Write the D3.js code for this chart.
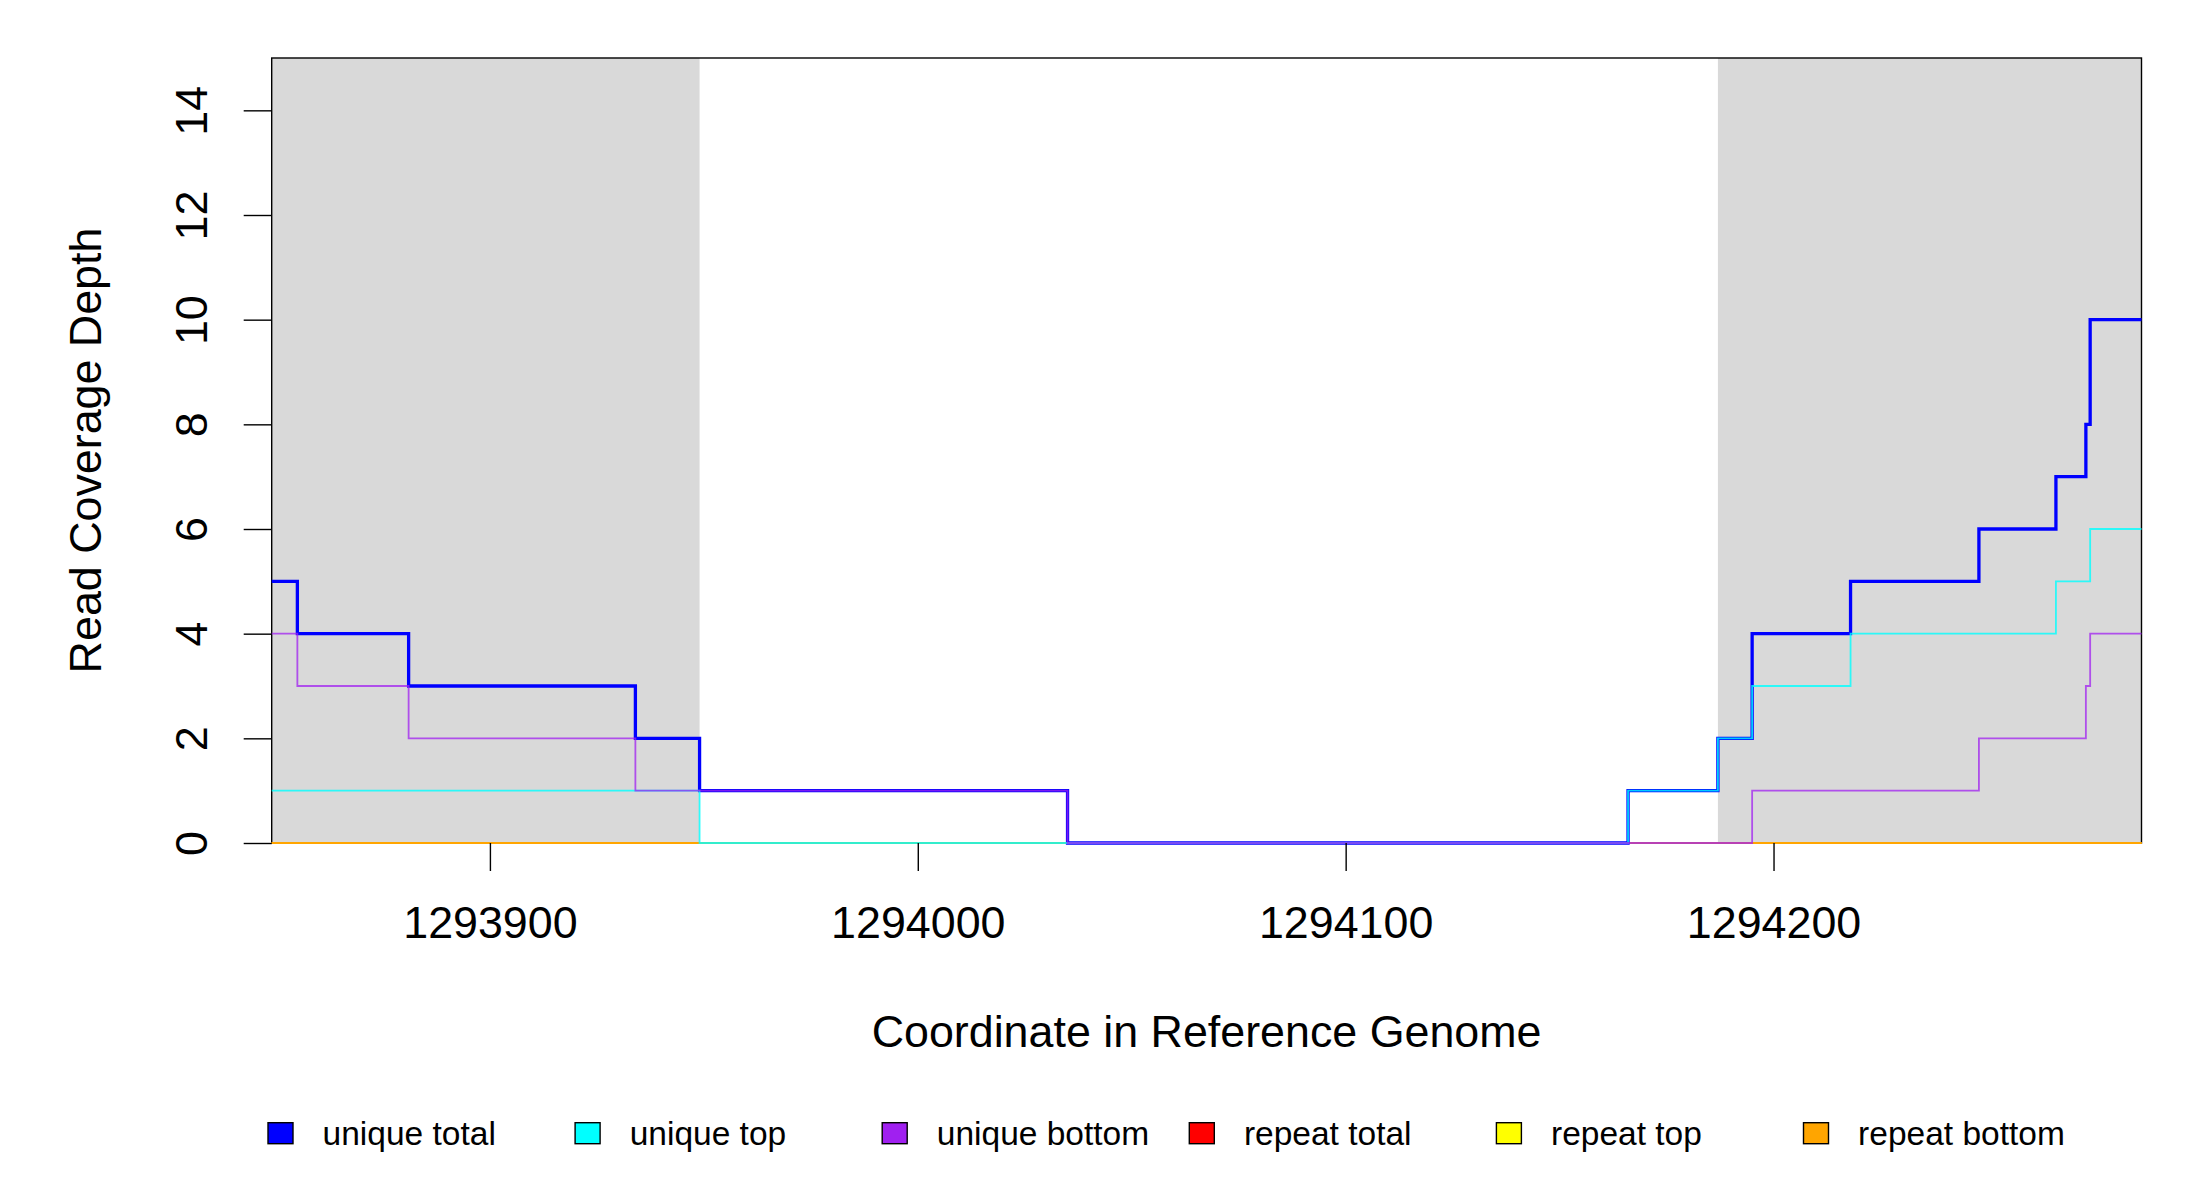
<!DOCTYPE html>
<html>
<head>
<meta charset="utf-8">
<script src="https://cdn.jsdelivr.net/npm/d3@7"></script>
<style>
  body { margin: 0; background: #fff; }
  svg { display: block; font-family: "Liberation Sans", Arial, sans-serif; }
</style>
</head>
<body>
<div class="chart"></div>
<script>
// step breakpoints (coordinate where each value starts)
const positions = [1293849, 1293855, 1293881, 1293934, 1293949, 1294035, 1294166,
                   1294187, 1294195, 1294218, 1294248, 1294266, 1294273, 1294274, 1294286];
const uniqueTotal  = [5, 4, 3, 2, 1, 0, 1, 2, 4, 5, 6, 7, 8, 10, 10];
const uniqueTop    = [1, 1, 1, 1, 0, 0, 1, 2, 3, 4, 4, 5, 5, 6, 6];
const uniqueBottom = [4, 3, 2, 1, 1, 0, 0, 0, 1, 1, 2, 2, 3, 4, 4];
const repeatTotal  = [0, 0, 0, 0, 0, 0, 0, 0, 0, 0, 0, 0, 0, 0, 0];
const repeatTop    = [0, 0, 0, 0, 0, 0, 0, 0, 0, 0, 0, 0, 0, 0, 0];
const repeatBottom = [0, 0, 0, 0, 0, 0, 0, 0, 0, 0, 0, 0, 0, 0, 0];

// shaded flanks
const shadedRegions = [[1293849, 1293949], [1294187, 1294286]];

const xTicks = [1293900, 1294000, 1294100, 1294200];
const yTicks = [0, 2, 4, 6, 8, 10, 12, 14];

const legendLabels = ["unique total", "unique top", "unique bottom", "repeat total", "repeat top", "repeat bottom"];
const legendColors = ["#0000ff", "#00ffff", "#a020f0", "#ff0000", "#ffff00", "#ffa500"];

const width = 2200;
const height = 1200;
const plotLeft = 271.7, plotRight = 2141.5, plotTop = 58, plotBottom = 843;

const svg = d3.select("div.chart")
    .append("svg")
    .attr("width", width)
    .attr("height", height);

const x = d3.scaleLinear().domain([1293849, 1294286]).range([plotLeft, plotRight]);
const y = d3.scaleLinear().domain([0, 15]).range([plotBottom, plotTop]);

svg.append("g")
    .selectAll("rect")
    .data(shadedRegions)
    .enter()
    .append("rect")
    .attr("x", function(d) { return x(d[0]); })
    .attr("y", plotTop)
    .attr("width", function(d) { return x(d[1]) - x(d[0]); })
    .attr("height", plotBottom - plotTop)
    .attr("fill", "#d9d9d9");

// box
svg.append("rect")
    .attr("x", plotLeft).attr("y", plotTop)
    .attr("width", plotRight - plotLeft).attr("height", plotBottom - plotTop)
    .attr("fill", "none").attr("stroke", "#000").attr("stroke-width", 1.4);

const line = d3.line()
    .x(function(d, i) { return x(positions[i]); })
    .y(function(d) { return y(d); })
    .curve(d3.curveStepAfter);

// draw order: repeats first, then unique on top
const series = [
    {values: repeatTotal,  color: "#ff0000", w: 2, op: 1},
    {values: repeatTop,    color: "#ffff00", w: 2, op: 1},
    {values: repeatBottom, color: "#ffa500", w: 2, op: 1},
    {values: uniqueTotal,  color: "#0000ff", w: 3.3, op: 1},
    {values: uniqueTop,    color: "#00ffff", w: 1.8, op: 0.8},
    {values: uniqueBottom, color: "#a020f0", w: 1.8, op: 0.75}
];

svg.append("g")
    .selectAll("path")
    .data(series)
    .enter()
    .append("path")
    .attr("d", function(d) { return line(d.values); })
    .attr("fill", "none")
    .attr("stroke", function(d) { return d.color; })
    .attr("stroke-width", function(d) { return d.w; })
    .attr("stroke-opacity", function(d) { return d.op; });

// x axis
const xAxis = svg.append("g")
    .attr("transform", "translate(0," + plotBottom + ")")
    .call(d3.axisBottom(x).tickValues(xTicks).tickSize(28).tickFormat(d3.format("d")));
xAxis.select(".domain").remove();
xAxis.selectAll("line").attr("stroke-width", 1.4);
xAxis.selectAll("text")
    .attr("y", 95).attr("dy", 0)
    .attr("font-size", 44.8)
    .attr("font-family", "Liberation Sans, Arial, sans-serif")
    .attr("fill", "#000");

// y axis
const yAxis = svg.append("g")
    .attr("transform", "translate(" + plotLeft + ",0)")
    .call(d3.axisLeft(y).tickValues(yTicks).tickSize(28));
yAxis.select(".domain").remove();
yAxis.selectAll("line").attr("stroke-width", 1.4);
yAxis.selectAll("text")
    .attr("transform", "rotate(-90)")
    .attr("x", 0).attr("y", -64.7).attr("dy", 0)
    .attr("text-anchor", "middle")
    .attr("font-size", 44.8)
    .attr("font-family", "Liberation Sans, Arial, sans-serif")
    .attr("fill", "#000");

// axis titles
svg.append("text")
    .attr("x", (plotLeft + plotRight) / 2).attr("y", 1047)
    .attr("text-anchor", "middle")
    .attr("font-size", 44.8)
    .text("Coordinate in Reference Genome");

svg.append("text")
    .attr("transform", "translate(101," + ((plotTop + plotBottom) / 2) + ") rotate(-90)")
    .attr("text-anchor", "middle")
    .attr("font-size", 44.8)
    .text("Read Coverage Depth");

// legend
const legend = svg.append("g")
    .selectAll("g")
    .data(legendLabels)
    .enter()
    .append("g")
    .attr("transform", function(d, i) { return "translate(" + (268 + i * 307.1) + ",0)"; });

legend.append("rect")
    .attr("x", 0).attr("y", 1122.7)
    .attr("width", 25).attr("height", 21)
    .attr("fill", function(d, i) { return legendColors[i]; })
    .attr("stroke", "#000").attr("stroke-width", 1.4);

legend.append("text")
    .attr("x", 54.6).attr("y", 1145)
    .attr("font-size", 33.5)
    .text(function(d) { return d; });
</script>
</body>
</html>
